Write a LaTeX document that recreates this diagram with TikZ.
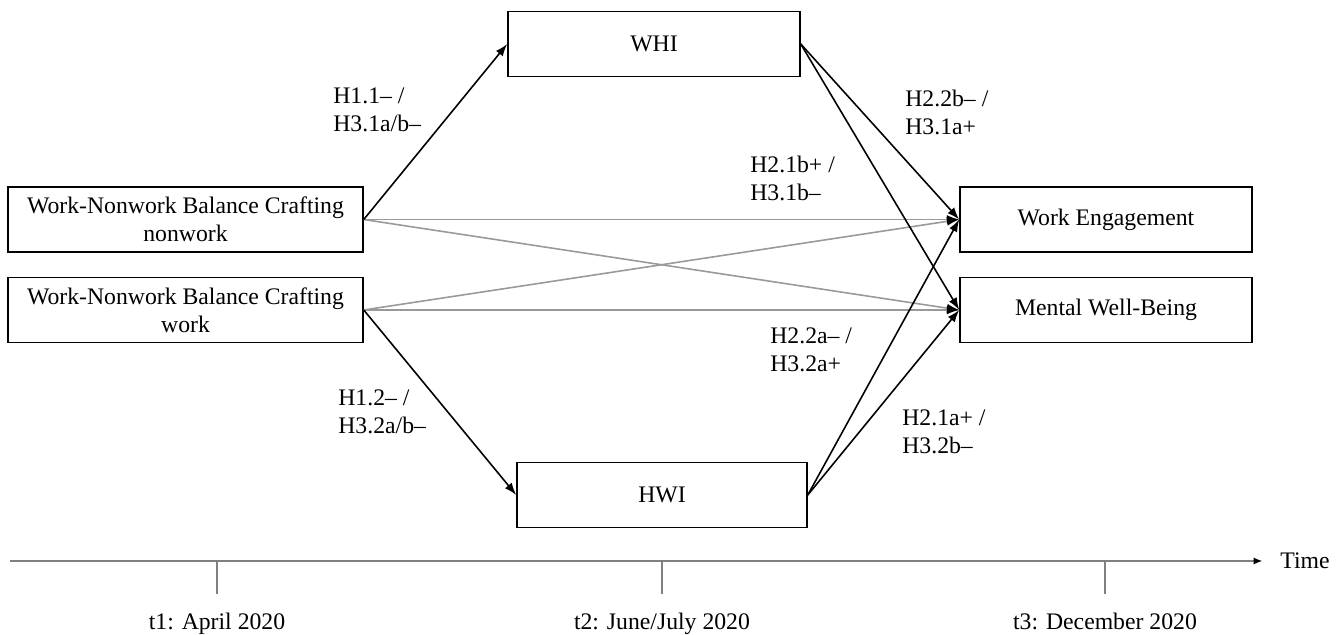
\documentclass[tikz,border=0pt]{standalone}
\usepackage{fontspec}
\setmainfont{Liberation Serif}
\usetikzlibrary{positioning, arrows.meta}
\tikzset{vbox/.style={draw, line width=0.9pt, minimum height=1.3cm, align=center, inner sep=2pt}}
\tikzset{hyp/.style={align=left, anchor=west, inner sep=0pt}}
\tikzset{arr/.style={draw, -{Latex[length=7pt, width=5pt]}, line width=0.9pt}}
\tikzset{arrg/.style={arr, draw=black!40, -{Latex[length=7pt, width=5pt, color=black]}}}
\tikzset{axis/.style={draw=black!50, line width=0.8pt}}

\begin{document}
\begin{tikzpicture}[x=0.02cm, y=-0.02cm, font=\fontsize{13.5}{16}\selectfont]
\useasboundingbox (0,0) rectangle (1336,635);
% boxes
\node[vbox, minimum width=5.84cm] (WHI) at (654,44) {WHI};
\node[vbox, minimum width=5.8cm] (HWI) at (662,495) {HWI};
\node[vbox, minimum width=7.1cm] (nonwork) at (185.5,219.5) {Work-Nonwork Balance Crafting\\nonwork};
\node[vbox, minimum width=7.1cm] (work) at (185.5,310) {Work-Nonwork Balance Crafting\\work};
\node[vbox, minimum width=5.84cm] (WE) at (1106,219.5) {Work Engagement};
\node[vbox, minimum width=5.84cm] (MWB) at (1106,310) {Mental Well-Being};
% direct paths
\foreach \a in {nonwork,work}
  \foreach \b in {WE,MWB}
    \draw[arrg] (\a.east) -- (\b.west);
% mediated paths
\draw[arr] (nonwork.east) -- (WHI.west);
\draw[arr] (work.east) -- (HWI.west);
\foreach \a in {WHI,HWI}
  \foreach \b in {WE,MWB}
    \draw[arr] (\a.east) -- (\b.west);
% hypotheses
\node[hyp] (h11) at (333,110) {H1.1– /\\H3.1a/b–};
\node[hyp] (h12) at (338,412) {H1.2– /\\H3.2a/b–};
\node[hyp] (h22b) at (905,112) {H2.2b– /\\H3.1a+};
\node[hyp] (h21b) at (750,178) {H2.1b+ /\\H3.1b–};
\node[hyp] (h22a) at (770,350) {H2.2a– /\\H3.2a+};
\node[hyp] (h21a) at (902,432) {H2.1a+ /\\H3.2b–};
% time axis
\coordinate (axstart) at (10,561);
\node[anchor=west, inner sep=0pt] (time) at (1280,561) {Time};
\draw[axis, -{Latex[length=5pt, width=4pt, color=black]}, shorten >=10pt] (axstart) -- (time.west);
\foreach \x/\lab [count=\i] in {217/{t1: April 2020}, 662/{t2: June/July 2020}, 1105/{t3: December 2020}} {
  \coordinate (tk\i) at (\x,561);
  \node[anchor=base] (t\i) at (\x,629) {\lab};
  \draw[axis] (tk\i) -- ++(0,33);
}
\end{tikzpicture}
\end{document}
